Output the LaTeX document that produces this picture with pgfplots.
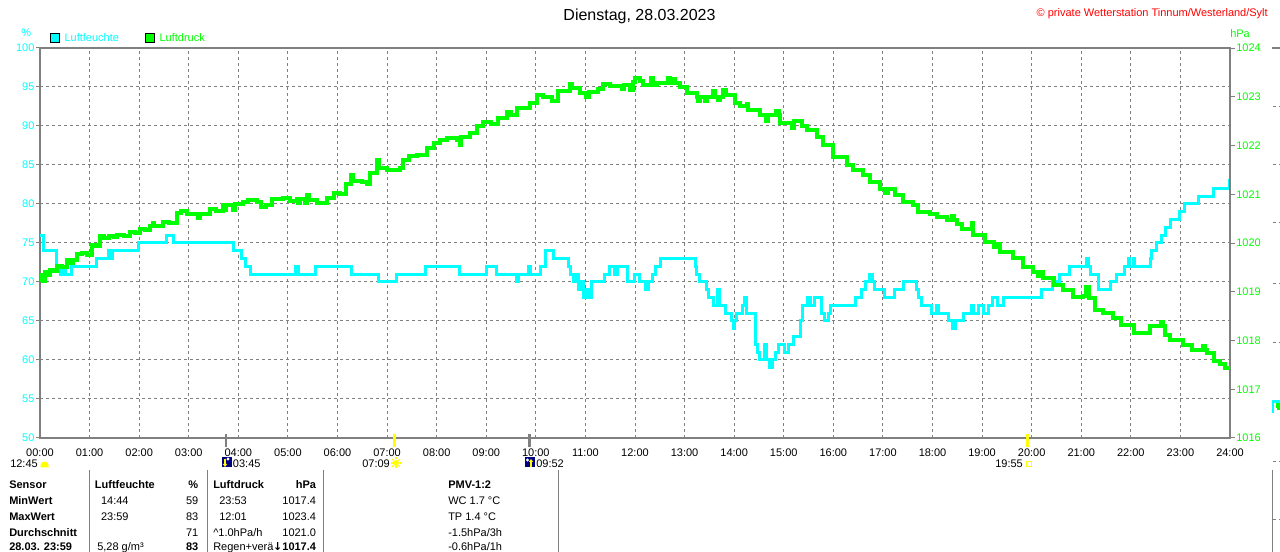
\documentclass[border=0pt]{standalone}
\usepackage{fontspec}
\setmainfont{Liberation Sans}
\newfontfamily\dejavu{DejaVu Sans}
\usepackage{pgfplots}
\usetikzlibrary{calc}
\pgfplotsset{compat=1.18}
\definecolor{cy}{HTML}{00FFFF}
\definecolor{gr}{HTML}{00FF00}
\definecolor{gy}{HTML}{808080}
\definecolor{rd}{HTML}{FF0000}
\definecolor{yl}{HTML}{FFFF00}
\definecolor{nv}{HTML}{000080}
\begin{document}
\fontsize{8.25pt}{10pt}\selectfont
\begin{tikzpicture}
\begin{axis}[
 at={(30pt,85.5pt)}, anchor=south west,
 scale only axis, width=892.5pt, height=292.5pt,
 xmin=0,xmax=24,ymin=50,ymax=100,
 xtick={0,1,...,24},
 xticklabels={00:00,01:00,02:00,03:00,04:00,05:00,06:00,07:00,08:00,09:00,10:00,11:00,12:00,13:00,14:00,15:00,16:00,17:00,18:00,19:00,20:00,21:00,22:00,23:00,24:00},
 ytick={50,55,...,100},
 xtick pos=bottom, ytick pos=left,
 tick align=outside,
 major tick length=3pt,
 xtick style={draw=none},
 ytick style={gy, line width=0.75pt},
 grid=major,
 major grid style={gy, line width=0.75pt, dash pattern=on 2.25pt off 2.25pt},
 axis line style={gy, line width=1.5pt},
 yticklabel style={cy, inner sep=1pt},
 xticklabel style={black, inner sep=1pt, yshift=-4pt},
 /pgf/number format/assume math mode=true,
]
\addplot[cy, line width=2.25pt, const plot] coordinates {
(0,76)(0.07,74)(0.34,72)(0.42,71)(0.47,72)(0.52,71)(0.64,72)(1.14,73)(1.38,74)(1.42,73)(1.47,74)(1.98,75)(2.55,76)(2.70,75)(3.90,74)(4.07,73)(4.15,72)(4.25,71)(5.16,72)(5.21,71)(5.55,72)(6.29,71)(6.82,70)(7.18,71)(7.77,72)(8.47,71)(9.01,72)(9.21,71)(9.62,70)(9.66,71)(9.86,72)(9.90,71)(10.10,72)(10.20,74)(10.35,73)(10.65,72)(10.70,71)(10.75,70)(10.82,71)(10.87,69)(10.93,70)(10.97,68)(11.03,69)(11.07,68)(11.12,70)(11.38,71)(11.48,72)(11.58,71)(11.64,72)(11.84,70)(11.98,71)(12.10,70)(12.21,69)(12.27,70)(12.35,71)(12.42,72)(12.52,73)
(13.21,72)(13.24,71)(13.31,70)(13.45,69)(13.48,68)(13.58,67)(13.66,69)(13.70,67)(13.82,66)(13.95,65)(13.98,64)(14.01,65)(14.05,66)(14.17,67)(14.21,68)(14.25,66)(14.42,62)(14.47,61)(14.52,60)(14.62,62)(14.65,60)(14.72,59)(14.77,60)(14.84,61)(14.89,62)(15.02,61)(15.09,62)(15.19,63)(15.33,65)(15.38,67)(15.48,68)(15.53,67)(15.62,68)(15.77,66)(15.82,65)(15.90,66)(15.95,67)
(16.45,68)(16.57,69)(16.65,70)(16.72,71)(16.78,70)(16.84,69)(17.04,68)(17.24,69)(17.41,70)(17.68,69)(17.72,68)(17.78,67)(17.97,66)(18.08,67)(18.12,66)(18.33,65)(18.40,64)(18.47,65)(18.62,66)(18.78,67)(18.82,66)(18.92,67)(19.02,66)(19.12,67)(19.20,68)(19.32,67)(19.44,68)(20.20,69)(20.42,70)(20.57,71)(20.76,72)(21.10,73)(21.14,72)(21.18,71)(21.35,69)(21.58,70)(21.71,71)(21.88,72)(21.95,73)(21.98,72)(22.05,73)(22.08,72)(22.39,73)(22.42,74)(22.52,75)(22.62,76)(22.69,77)(22.79,78)(22.99,79)(23.09,80)(23.36,81)(23.67,82)(23.98,83)(24,83)};
\end{axis}
\begin{axis}[
 at={(30pt,85.5pt)}, anchor=south west,
 scale only axis, width=892.5pt, height=292.5pt,
 xmin=0,xmax=24,ymin=1016,ymax=1024,
 axis y line*=right, axis x line=none,
 ytick={1016,1017,...,1024},
 tick align=outside,
 major tick length=3.5pt,
 ytick style={gy, line width=0.75pt},
 axis line style={gy, line width=1.5pt},
 yticklabel style={gr, inner sep=1pt, /pgf/number format/1000 sep={}},
 /pgf/number format/assume math mode=true,
]
\addplot[gr, line width=3pt, const plot] coordinates {
(0.00,1019.25)(0.03,1019.35)(0.06,1019.22)(0.10,1019.40)(0.15,1019.35)(0.20,1019.45)(0.27,1019.42)(0.34,1019.52)(0.45,1019.50)(0.54,1019.65)(0.60,1019.58)(0.66,1019.66)(0.74,1019.78)(0.85,1019.80)(0.95,1019.76)(1.04,1019.96)(1.12,1019.93)(1.21,1020.14)(1.30,1020.10)(1.40,1020.15)(1.50,1020.12)(1.55,1020.17)(1.70,1020.15)(1.82,1020.23)(1.92,1020.20)(2.02,1020.29)(2.12,1020.26)(2.22,1020.34)(2.27,1020.42)(2.30,1020.34)(2.49,1020.44)(2.60,1020.40)(2.76,1020.61)(2.85,1020.65)(2.96,1020.60)(3.10,1020.60)(3.18,1020.52)(3.22,1020.60)(3.43,1020.69)(3.55,1020.66)(3.70,1020.78)(3.72,1020.68)(3.76,1020.78)(3.90,1020.68)(3.94,1020.80)(4.10,1020.85)(4.20,1020.88)(4.37,1020.85)(4.45,1020.74)(4.55,1020.78)(4.67,1020.90)(4.90,1020.92)(5.05,1020.87)(5.18,1020.90)(5.20,1020.82)(5.25,1020.90)(5.34,1020.82)(5.38,1020.98)(5.42,1020.88)(5.58,1020.83)(5.78,1020.92)(5.92,1021.03)(6.05,1021.00)(6.18,1021.22)(6.28,1021.39)(6.32,1021.28)(6.50,1021.26)(6.60,1021.22)(6.66,1021.43)(6.80,1021.70)(6.84,1021.53)(7.00,1021.50)(7.26,1021.53)(7.32,1021.70)(7.45,1021.78)(7.60,1021.80)(7.80,1021.95)(7.95,1022.05)(8.07,1022.11)(8.20,1022.15)(8.40,1022.11)(8.47,1022.01)(8.50,1022.18)(8.67,1022.25)(8.81,1022.39)(8.94,1022.49)(9.10,1022.45)(9.24,1022.56)(9.41,1022.69)(9.50,1022.62)(9.61,1022.76)(9.88,1022.87)(10.02,1023.04)(10.15,1023.00)(10.32,1022.92)(10.45,1023.12)(10.69,1023.27)(10.72,1023.17)(10.89,1023.08)(11.02,1023.00)(11.08,1023.10)(11.25,1023.16)(11.36,1023.26)(11.50,1023.22)(11.74,1023.16)(11.78,1023.24)(11.90,1023.14)(11.96,1023.30)(12.00,1023.38)(12.10,1023.33)(12.17,1023.24)(12.33,1023.39)(12.37,1023.24)(12.44,1023.29)(12.66,1023.39)(12.70,1023.29)(12.76,1023.37)(12.80,1023.29)(12.91,1023.21)(13.04,1023.07)(13.25,1023.00)(13.28,1022.92)(13.32,1023.00)(13.42,1022.92)(13.46,1023.00)(13.58,1023.12)(13.62,1023.00)(13.68,1022.93)(13.72,1023.00)(13.78,1023.13)(13.83,1023.04)(14.02,1022.87)(14.12,1022.80)(14.25,1022.85)(14.28,1022.73)(14.52,1022.63)(14.64,1022.50)(14.68,1022.63)(14.85,1022.70)(14.90,1022.63)(14.92,1022.47)(15.10,1022.47)(15.16,1022.35)(15.20,1022.50)(15.37,1022.39)(15.46,1022.32)(15.67,1022.18)(15.80,1022.01)(16.00,1021.77)(16.27,1021.60)(16.40,1021.50)(16.60,1021.39)(16.74,1021.26)(16.94,1021.10)(17.05,1021.02)(17.10,1021.10)(17.24,1020.98)(17.41,1020.85)(17.60,1020.77)(17.70,1020.64)(17.95,1020.60)(18.09,1020.53)(18.29,1020.47)(18.40,1020.55)(18.44,1020.47)(18.50,1020.38)(18.60,1020.28)(18.80,1020.40)(18.82,1020.16)(19.06,1020.03)(19.23,1019.92)(19.30,1019.98)(19.36,1019.82)(19.63,1019.69)(19.83,1019.51)(20.03,1019.41)(20.12,1019.33)(20.16,1019.41)(20.23,1019.28)(20.44,1019.14)(20.64,1019.04)(20.84,1018.90)(21.04,1018.92)(21.10,1019.09)(21.15,1018.88)(21.27,1018.63)(21.44,1018.57)(21.64,1018.46)(21.80,1018.32)(22.07,1018.15)(22.38,1018.30)(22.60,1018.38)(22.64,1018.30)(22.69,1018.11)(22.79,1018.01)(23.06,1017.91)(23.23,1017.81)(23.46,1017.88)(23.50,1017.81)(23.53,1017.74)(23.67,1017.57)(23.80,1017.52)(23.90,1017.43)(24.00,1017.45)};
\end{axis}
% fragment of the next chart at the right edge
\begin{axis}[at={(954pt,85.5pt)}, anchor=south west, scale only axis, width=22.5pt, height=292.5pt, xmin=0,xmax=1,ymin=50,ymax=100, hide axis]
\addplot[cy, line width=2.25pt] coordinates {(0.02,53.2)(0.02,54.74)(0.4,54.74)};
\addplot[gr, line width=2.25pt, const plot] coordinates {(0.12,54.0)(0.17,54.3)(0.22,53.8)(0.3,54.1)(0.4,54.1)};
\end{axis}
\begin{scope}[x=0.75pt,y=-0.75pt,yshift=414pt]
% title and texts
\node[anchor=base, inner sep=0pt, font=\fontsize{12pt}{14pt}\selectfont] at (639.5,21) {Dienstag, 28.03.2023};
\node[anchor=base east, inner sep=0pt, text=rd] at (1268,16.7) {© private Wetterstation Tinnum/Westerland/Sylt};
\node[anchor=base, inner sep=0pt, text=cy] at (26.3,36.7) {\%};
\node[anchor=base west, inner sep=0pt, text=gr] at (1230,37.3) {hPa};
% legend
\filldraw[draw=black, fill=cy, line width=0.75pt] (50.5,33.2) rectangle (59.8,42.3);
\node[anchor=base west, inner sep=0pt, text=cy] at (64.3,41.7) {Luftfeuchte};
\filldraw[draw=black, fill=gr, line width=0.75pt] (145.5,33.2) rectangle (154.8,42.3);
\node[anchor=base west, inner sep=0pt, text=gr] at (159.3,41.7) {Luftdruck};
% sun/moon marks on the time axis
\draw[gy, line width=2pt] (225.9,434) -- (225.9,447);
\draw[gy, line width=2pt] (529.2,434) -- (529.2,447);
\draw[yl, line width=2pt] (394.5,434) -- (394.5,447);
\draw[yl, line width=2pt] (1027.5,434) -- (1027.5,447);
\node[anchor=base west, inner sep=0pt] at (10,467.5) {12:45};
\fill[yl] (40.5,467.5) -- (40.5,465) .. controls (40.5,460.5) and (48.5,460.5) .. (48.5,465) -- (48.5,467.5) -- cycle;
\fill[nv] (221.5,457.5) rectangle (231.5,467.5);
\fill[white] (228,459) circle (1.6);
\draw[yl, line width=1.2pt] (225,459) -- (225,465.5);
\fill[yl] (222.8,464) -- (227.2,464) -- (225,467) -- cycle;
\node[anchor=base west, inner sep=0pt] at (232.7,467.5) {03:45};
\node[anchor=base west, inner sep=0pt] at (362,467.5) {07:09};
\fill[yl] (396,463) circle (3);
\foreach \a in {0,45,...,315} \draw[yl, line width=0.8pt] ($(396,463)+(\a:3.5)$) -- ($(396,463)+(\a:5.5)$);
\fill[nv] (525,457.5) rectangle (535,467.5);
\fill[white] (527.5,460) circle (1.6);
\draw[yl, line width=1.2pt] (531,461) -- (531,467);
\fill[yl] (528.8,462) -- (533.2,462) -- (531,459) -- cycle;
\node[anchor=base west, inner sep=0pt] at (536,467.5) {09:52};
\node[anchor=base west, inner sep=0pt] at (995,467.5) {19:55};
\draw[yl, line width=0.75pt] (1026,462) rectangle (1031,467);
% table separators
\foreach \xx in {89,207,323,558} \draw[gy, line width=0.75pt] (\xx,470) -- (\xx,552);
% table
\begin{scope}[every node/.style={inner sep=0pt}]
\node[anchor=base west] at (9,489) {\bfseries Sensor};
\node[anchor=base west] at (9,505) {\bfseries MinWert};
\node[anchor=base west] at (9,521) {\bfseries MaxWert};
\node[anchor=base west] at (9,537) {\bfseries Durchschnitt};
\node[anchor=base west] at (9,551) {\bfseries 28.03. 23:59};
\node[anchor=base west] at (94.7,489) {\bfseries Luftfeuchte};
\node[anchor=base east] at (198.5,489) {\bfseries \%};
\node[anchor=base west] at (100.8,505) {14:44};
\node[anchor=base west] at (100.8,521) {23:59};
\node[anchor=base west] at (97,551) {5,28 g/m³};
\node[anchor=base east] at (198.5,505) {59};
\node[anchor=base east] at (198.5,521) {83};
\node[anchor=base east] at (198.5,537) {71};
\node[anchor=base east] at (198.5,551) {\bfseries 83};
\node[anchor=base west] at (213,489) {\bfseries Luftdruck};
\node[anchor=base east] at (316.3,489) {\bfseries hPa};
\node[anchor=base west] at (219,505) {23:53};
\node[anchor=base west] at (219,521) {12:01};
\node[anchor=base west] at (213,537) {\textasciicircum 1.0hPa/h};
\node[anchor=base west] at (213,551) {Regen+verä};
\node[anchor=base east] at (316.3,505) {1017.4};
\node[anchor=base east] at (316.3,521) {1023.4};
\node[anchor=base east] at (316.3,537) {1021.0};
\node[anchor=base east] at (316.3,551) {{\dejavu\bfseries ↓}\bfseries 1017.4};
\node[anchor=base west] at (448,489) {\bfseries PMV-1:2};
\node[anchor=base west] at (448,505) {WC 1.7 °C};
\node[anchor=base west] at (448,521) {TP 1.4 °C};
\node[anchor=base west] at (448,537) {-1.5hPa/3h};
\node[anchor=base west] at (448,551) {-0.6hPa/1h};
\end{scope}
% pieces of the next chart
\draw[gy, line width=1.5pt] (1272,48) -- (1280,48);
\foreach \yy in {107,165,223,284,343,461.7,520} \draw[gy, line width=0.75pt, dash pattern=on 2.25pt off 2.25pt] (1273,\yy) -- (1280,\yy);
\draw[gy, line width=0.75pt] (1272,470) -- (1272,552);
\end{scope}
\pgfresetboundingbox
\useasboundingbox (0,0) rectangle (960pt,414pt);
\end{tikzpicture}
\end{document}
